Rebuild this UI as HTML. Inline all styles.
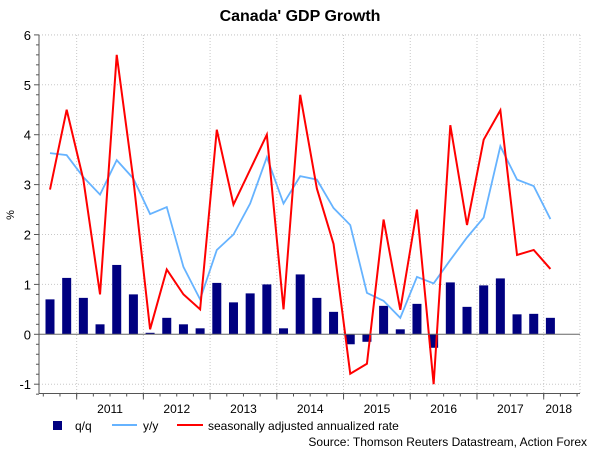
<!DOCTYPE html>
<html><head><meta charset="utf-8"><style>
html,body{margin:0;padding:0;background:#fff;}
svg{display:block;font-family:"Liberation Sans",Arial,sans-serif;}
</style></head><body>
<svg id="chart" width="600" height="450" viewBox="0 0 600 450">
<rect width="600" height="450" fill="#fff"/>
<text x="300" y="21" text-anchor="middle" font-size="16" font-weight="bold" fill="#000">Canada' GDP Growth</text>
<text x="14" y="215" text-anchor="middle" font-size="11" fill="#000" transform="rotate(-90 14 215)">%</text>
<g id="grid"></g>
<g id="bars"></g>
<g id="lines"></g>
<g id="axes"></g>
<g>
 <g><rect x="53" y="421" width="9" height="9" fill="#000080"/><text x="75" y="430" font-size="12">q/q</text></g>
 <g><line x1="112" y1="425" x2="137" y2="425" stroke="#66b3ff" stroke-width="2"/><text x="143" y="430" font-size="12">y/y</text></g>
 <g><line x1="177" y1="425" x2="203" y2="425" stroke="#ff0000" stroke-width="2"/><text x="208" y="430" font-size="12">seasonally adjusted annualized rate</text></g>
</g>
<text x="587" y="446" text-anchor="end" font-size="12" fill="#000">Source: Thomson Reuters Datastream, Action Forex</text>
</svg>
<script>
const qq = [0.7,1.13,0.73,0.2,1.39,0.8,0.03,0.33,0.2,0.12,1.03,0.64,0.82,1.0,0.12,1.2,0.73,0.45,-0.2,-0.15,0.57,0.1,0.61,-0.27,1.04,0.55,0.98,1.12,0.4,0.41,0.33];
const yy = [3.63,3.59,3.15,2.8,3.49,3.12,2.41,2.55,1.35,0.7,1.69,2.0,2.62,3.55,2.62,3.17,3.1,2.53,2.19,0.83,0.67,0.33,1.15,1.02,1.49,1.94,2.34,3.77,3.1,2.97,2.31];
const saar = [2.9,4.5,3.1,0.8,5.6,3.09,0.1,1.3,0.8,0.5,4.1,2.6,3.3,4.0,0.5,4.8,2.92,1.81,-0.79,-0.59,2.3,0.49,2.5,-1.0,4.19,2.19,3.9,4.49,1.59,1.69,1.31];
const yTicks = [-1,0,1,2,3,4,5,6];
const years = ["2011","2012","2013","2014","2015","2016","2017","2018"];

const NS="http://www.w3.org/2000/svg";
const L=39,R=580,T=35,B=393.5;
const y=v=>334.3-v*49.9;
const x=i=>50+i*16.68;
function mk(tag,attrs,parent){const e=document.createElementNS(NS,tag);for(const k in attrs)e.setAttribute(k,attrs[k]);parent.appendChild(e);return e;}
const grid=document.getElementById('grid'),bars=document.getElementById('bars'),lines=document.getElementById('lines'),axes=document.getElementById('axes');

yTicks.forEach(v=>{
  if(v!==0){const g=mk('line',{x1:L,x2:R,y1:y(v),y2:y(v),stroke:'#c8c8c8','stroke-dasharray':'1,2'},grid);
  
  }
  const t=mk('text',{x:L-8,y:y(v)+5,'text-anchor':'end','font-size':'13',fill:'#000'},axes);
  t.textContent=v;
  
  
});
mk('line',{x1:L,x2:R,y1:T,y2:T,stroke:'#c8c8c8','stroke-dasharray':'1,2'},grid);
mk('line',{x1:R,x2:R,y1:T,y2:B,stroke:'#c8c8c8','stroke-dasharray':'1,2'},grid);
for(let k=-6;k<=30;k++){const v=k*0.2;const len=(k%5===0)?5:3;
  mk('line',{x1:L-len,x2:L,y1:y(v),y2:y(v),stroke:'#555'},axes);}
const yearTick=j=>x(2)-6.7+j*66.72;
years.forEach((yr,j)=>{
  const xt=yearTick(j);
  if(xt<R){
    const g=mk('line',{x1:xt,x2:xt,y1:T,y2:B,stroke:'#c8c8c8','stroke-dasharray':'1,2'},grid);
    
    
    mk('line',{x1:xt,x2:xt,y1:B,y2:B+6,stroke:'#555'},axes);
  }
  const cx = j<years.length-1 ? xt+33.4 : xt+15;
  const t=mk('text',{x:cx,y:413,'text-anchor':'middle','font-size':'12',fill:'#000'},axes);
  t.textContent=yr;
  
  
});
for(let i=0;i<33;i++){const xt=x(0)-6.7+i*16.68; if(xt>L&&xt<R) mk('line',{x1:xt,x2:xt,y1:B,y2:B+3,stroke:'#555'},axes);}
qq.forEach((v,i)=>{
  const r=mk('rect',{x:x(i)-4.5,y:Math.min(y(v),y(0)),width:9,height:Math.abs(y(v)-y(0)),fill:'#000080'},bars);
  
  
});
mk('line',{x1:L,x2:R,y1:y(0),y2:y(0),stroke:'#666'},axes);
mk('line',{x1:L,x2:L,y1:T,y2:B,stroke:'#555'},axes);
mk('line',{x1:L,x2:R,y1:B,y2:B,stroke:'#555'},axes);
const yyLine=mk('polyline',{points:yy.map((v,i)=>x(i)+','+y(v)).join(' '),fill:'none',stroke:'#66b3ff','stroke-width':'1.8'},lines);


const sLine=mk('polyline',{points:saar.map((v,i)=>x(i)+','+y(v)).join(' '),fill:'none',stroke:'#ff0000','stroke-width':'2','stroke-linejoin':'miter'},lines);


</script>
</body></html>
